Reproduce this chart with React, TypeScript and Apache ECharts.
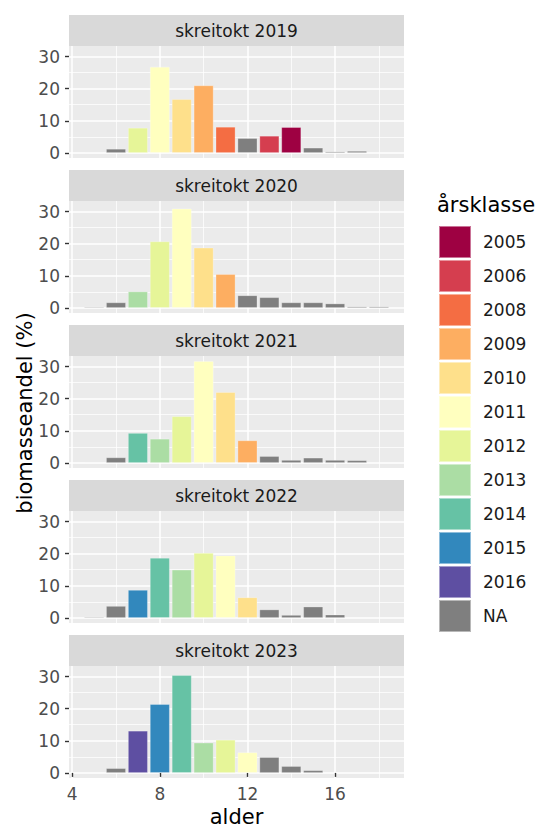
import React, { useEffect, useRef } from "react";
import * as echarts from "echarts";

const ages = [5, 6, 7, 8, 9, 10, 11, 12, 13, 14, 15, 16, 17, 18];
const surveys = ["skreitokt 2019", "skreitokt 2020", "skreitokt 2021", "skreitokt 2022", "skreitokt 2023"];

const v2019 = [0.2, 1.25, 7.8, 26.8, 16.7, 21.0, 8.1, 4.6, 5.3, 8.0, 1.6, 0.4, 0.6, null];
const c2019 = ["NA", "NA", "2012", "2011", "2010", "2009", "2008", "NA", "2006", "2005", "NA", "NA", "NA", null];
const v2020 = [0.3, 1.7, 5.1, 20.7, 30.9, 18.75, 10.5, 3.9, 3.3, 1.7, 1.7, 1.35, 0.4, 0.4];
const c2020 = ["NA", "NA", "2013", "2012", "2011", "2010", "2009", "NA", "NA", "NA", "NA", "NA", "NA", "NA"];
const v2021 = [0.2, 1.7, 9.3, 7.5, 14.5, 31.7, 22.0, 7.0, 2.1, 0.9, 1.6, 0.9, 0.8, null];
const c2021 = ["NA", "NA", "2014", "2013", "2012", "2011", "2010", "2009", "NA", "NA", "NA", "NA", "NA", null];
const v2022 = [0.3, 3.7, 8.7, 18.7, 15.0, 20.2, 19.4, 6.4, 2.6, 0.9, 3.5, 1.0, null, null];
const c2022 = ["NA", "NA", "2015", "2014", "2013", "2012", "2011", "2010", "NA", "NA", "NA", "NA", null, null];
const v2023 = [null, 1.45, 13.1, 21.4, 30.4, 9.4, 10.3, 6.4, 4.9, 2.1, 0.8, null, null, null];
const c2023 = [null, "NA", "2016", "2015", "2014", "2013", "2012", "2011", "NA", "NA", "NA", null, null, null];

const classes = ["2005", "2006", "2008", "2009", "2010", "2011", "2012", "2013", "2014", "2015", "2016", "NA"];
const classColors = ["#9E0142", "#D53E4F", "#F46D43", "#FDAE61", "#FEE08B", "#FFFFBF", "#E6F598", "#ABDDA4", "#66C2A5", "#3288BD", "#5E4FA2", "#7F7F7F"];

const xMajor = [4, 8, 12, 16];
const xMinor = [6, 10, 14, 18];
const yMajor = [0, 10, 20, 30];
const yMinor = [5, 15, 25];

const values = [v2019, v2020, v2021, v2022, v2023];
const classArr = [c2019, c2020, c2021, c2022, c2023];

const FONT = "DejaVu Sans";

export default function App() {
  const ref = useRef<HTMLDivElement>(null);
  useEffect(() => {
    if (!ref.current) return;
    const chart = echarts.init(ref.current, null, { renderer: "svg" });

    const left = 69;
    const width = 335;
    const period = 155;
    const stripTop = 15;
    const stripH = 31;
    const plotH = 112;
    const xMin = 3.855, xMax = 19.145;
    const yMin = -1.585, yMax = 33.285;
    const barW = (0.9 * width) / (xMax - xMin);

    const grids: any[] = [];
    const xAxes: any[] = [];
    const yAxes: any[] = [];
    const series: any[] = [];
    const graphics: any[] = [];
    const major = { show: true, lineStyle: { color: "#FFFFFF", width: 1.5 } };
    const minor = { show: true, lineStyle: { color: "#FFFFFF", width: 0.75 } };

    for (let p = 0; p < 5; p++) {
      const top = stripTop + period * p + stripH;
      grids.push({
        left, width, top, height: plotH, show: true, backgroundColor: "#EBEBEB",
        borderWidth: 0, outerBoundsMode: "none", containLabel: false,
      });
      const last = p === 4;
      xAxes.push({
        type: "value", gridIndex: p, min: xMin, max: xMax, position: "bottom",
        axisLine: { show: false },
        axisTick: { show: last, customValues: xMajor, length: 4, lineStyle: { color: "#333333", width: 1.4 } },
        axisLabel: { show: last, customValues: xMajor, color: "#4D4D4D", fontSize: 17, fontFamily: FONT, margin: 7 },
        splitLine: major, minorSplitLine: { show: false },
      });
      xAxes.push({
        type: "value", gridIndex: p, min: xMin, max: xMax, position: "top",
        axisLine: { show: false },
        axisTick: { show: false, customValues: xMinor },
        axisLabel: { show: false },
        splitLine: minor,
      });
      yAxes.push({
        type: "value", gridIndex: p, min: yMin, max: yMax, position: "left",
        axisLine: { show: false },
        axisTick: { show: true, customValues: yMajor, length: 4, lineStyle: { color: "#333333", width: 1.4 } },
        axisLabel: { show: true, customValues: yMajor, color: "#4D4D4D", fontSize: 17, fontFamily: FONT, margin: 9 },
        splitLine: major,
      });
      yAxes.push({
        type: "value", gridIndex: p, min: yMin, max: yMax, position: "right",
        axisLine: { show: false },
        axisTick: { show: false, customValues: yMinor },
        axisLabel: { show: false },
        splitLine: minor,
      });

      classes.forEach((c, ci) => {
        const data: any[] = [];
        ages.forEach((a, k) => {
          if (classArr[p][k] === c && values[p][k] != null) data.push([a, values[p][k]]);
        });
        if (data.length) {
          series.push({
            name: c, type: "bar", xAxisIndex: 2 * p, yAxisIndex: 2 * p, stack: "p" + p,
            barWidth: barW,
            itemStyle: { color: classColors[ci], borderColor: "rgba(255,255,255,0.45)", borderWidth: 0.6 },
            data,
          });
        }
      });

      graphics.push({
        type: "rect", shape: { x: left, y: stripTop + period * p, width, height: stripH },
        style: { fill: "#D9D9D9" }, silent: true,
      });
      graphics.push({
        type: "text", x: left + width / 2, y: stripTop + period * p + stripH / 2 + 0.5,
        style: { text: surveys[p], fill: "#1A1A1A", fontSize: 17, fontFamily: FONT, align: "center", verticalAlign: "middle" },
      });
    }

    graphics.push({
      type: "text", x: 25, y: 413, rotation: Math.PI / 2,
      style: { text: "biomasseandel (%)", fill: "#000000", fontSize: 21, fontFamily: FONT, align: "center", verticalAlign: "middle" },
    });
    graphics.push({
      type: "text", x: left + width / 2, y: 817,
      style: { text: "alder", fill: "#000000", fontSize: 21, fontFamily: FONT, align: "center", verticalAlign: "middle" },
    });
    graphics.push({
      type: "text", x: 437, y: 205,
      style: { text: "årsklasse", fill: "#000000", fontSize: 21, fontFamily: FONT, align: "left", verticalAlign: "middle" },
    });

    chart.setOption({
      animation: false,
      backgroundColor: "#FFFFFF",
      grid: grids,
      xAxis: xAxes,
      yAxis: yAxes,
      series,
      legend: {
        data: classes, orient: "vertical", left: 438, top: 225,
        itemWidth: 32, itemHeight: 32, itemGap: 0, icon: "rect", selectedMode: false,
        padding: 0,
        textStyle: { fontSize: 17, fontFamily: FONT, color: "#1A1A1A", padding: [0, 0, 0, 7] },
      },
      graphic: graphics,
    });
    return () => chart.dispose();
  }, []);
  return <div ref={ref} style={{ position: "fixed", left: 0, top: 0, width: 541, height: 828 }} />;
}
